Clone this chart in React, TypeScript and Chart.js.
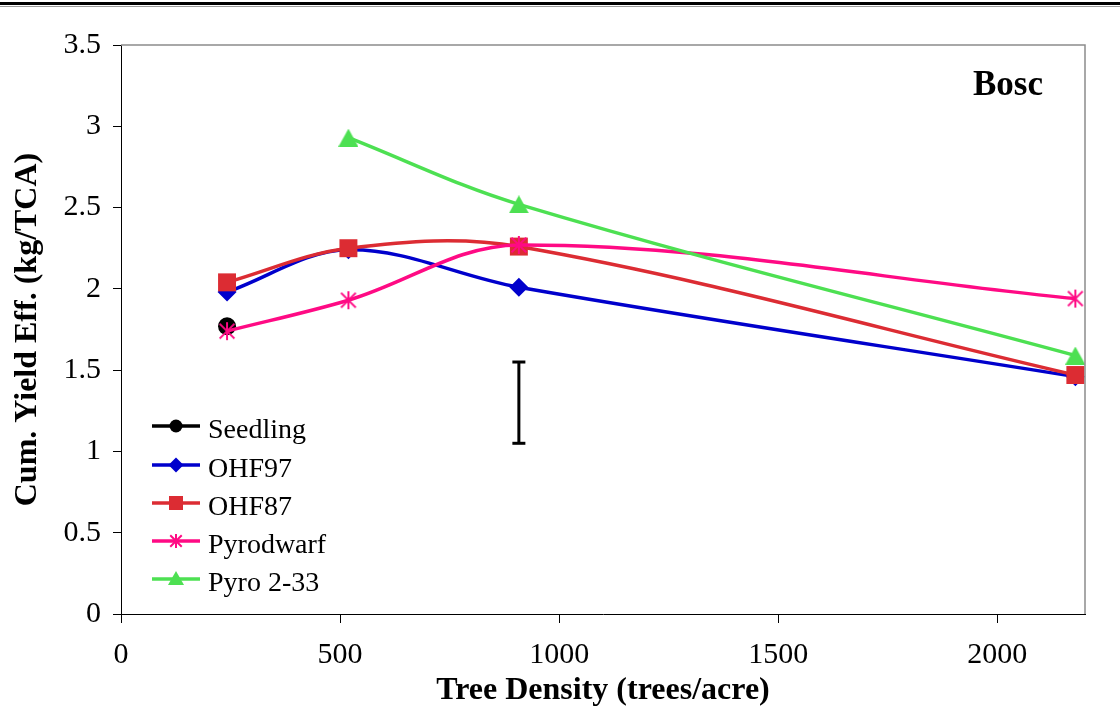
import React, { useEffect, useRef } from "react";
import { Chart, registerables } from "chart.js";

Chart.register(...registerables);

// ---------- data ----------
const X_DENSITY = [242, 519, 908, 2178];
const SERIES_NAMES = ["Seedling", "OHF97", "OHF87", "Pyrodwarf", "Pyro 2-33"];
const SEEDLING = [1.77, null, null, null];
const OHF97 = [1.98, 2.24, 2.01, 1.46];
const OHF87 = [2.04, 2.25, 2.26, 1.47];
const PYRODWARF = [1.74, 1.93, 2.27, 1.94];
const PYRO_233 = [null, 2.93, 2.52, 1.59];
const ERROR_X = [908, 908];
const ERROR_Y = [1.05, 1.55];
const X_TICKS = [0, 500, 1000, 1500, 2000];
const Y_TICKS = [0, 0.5, 1, 1.5, 2, 2.5, 3, 3.5];
const X_TITLE = "Tree Density (trees/acre)";
const Y_TITLE = "Cum. Yield Eff. (kg/TCA)";
const PANEL_LABEL = "Bosc";

const SERIES_VALUES = [SEEDLING, OHF97, OHF87, PYRODWARF, PYRO_233];
const SERIES_COLORS = ["#000000", "#0000CC", "#DC2C33", "#FF0A84", "#4DE052"];

const FONT = '"Liberation Serif", "Times New Roman", Times, serif';

function makeAsterisk(size: number, color: string, lw: number) {
  const c = document.createElement("canvas");
  c.width = size;
  c.height = size;
  const ctx = c.getContext("2d")!;
  ctx.strokeStyle = color;
  ctx.lineWidth = lw;
  ctx.lineCap = "butt";
  const m = size / 2;
  const h = size / 2 - 1;
  const d = h * 0.82;
  ctx.beginPath();
  ctx.moveTo(m, m - h);
  ctx.lineTo(m, m + h);
  ctx.moveTo(m - d, m - d);
  ctx.lineTo(m + d, m + d);
  ctx.moveTo(m + d, m - d);
  ctx.lineTo(m - d, m + d);
  ctx.stroke();
  return c;
}

function makeTriangle(w: number, h: number, color: string) {
  const c = document.createElement("canvas");
  c.width = w;
  c.height = h;
  const ctx = c.getContext("2d")!;
  ctx.fillStyle = color;
  ctx.beginPath();
  ctx.moveTo(w / 2, 0);
  ctx.lineTo(w, h);
  ctx.lineTo(0, h);
  ctx.closePath();
  ctx.fill();
  return c;
}

export default function App() {
  const ref = useRef<HTMLCanvasElement>(null);

  useEffect(() => {
    document.body.style.margin = "0";
    const canvas = ref.current!;

    const star = makeAsterisk(20, SERIES_COLORS[3], 2);
    const tri = makeTriangle(20, 18, SERIES_COLORS[4]);
    const starSmall = makeAsterisk(16, SERIES_COLORS[3], 2);
    const triSmall = makeTriangle(16, 14, SERIES_COLORS[4]);

    const styles: any[] = ["circle", "rectRot", "rect", star, tri];
    const radii = [9, 9.5, 12.7, 10, 10];

    const datasets: any[] = SERIES_VALUES.map((vals, i) => ({
      label: SERIES_NAMES[i],
      data: vals
        .map((y, j) => ({ x: X_DENSITY[j], y }))
        .filter((p) => p.y !== null),
      borderColor: SERIES_COLORS[i],
      backgroundColor: SERIES_COLORS[i],
      borderWidth: 3.5,
      pointStyle: styles[i],
      pointRadius: radii[i],
      pointBorderWidth: 0,
      pointBackgroundColor: SERIES_COLORS[i],
      pointBorderColor: SERIES_COLORS[i],
      tension: 0.35,
      order: 10 - i,
      clip: false,
    }));

    datasets.push({
      label: "LSD",
      data: ERROR_X.map((x, j) => ({ x, y: ERROR_Y[j] })),
      borderColor: "#000",
      backgroundColor: "#000",
      borderWidth: 3,
      pointStyle: "line",
      pointRadius: 6.5,
      pointBorderWidth: 3,
      pointBorderColor: "#000",
      tension: 0,
      order: 20,
    });

    const framePlugin = {
      id: "frame",
      beforeDraw(chart: any) {
        const ctx = chart.ctx;
        ctx.save();
        ctx.fillStyle = "#fff";
        ctx.fillRect(0, 0, chart.width, chart.height);
        ctx.restore();
      },
      afterDraw(chart: any) {
        const ctx = chart.ctx;
        const a = chart.chartArea;
        ctx.save();
        // top rule of the page
        ctx.fillStyle = "#000";
        ctx.fillRect(0, 2, chart.width, 3);
        ctx.fillStyle = "#9a9a9a";
        ctx.fillRect(0, 6, chart.width, 1);
        // plot-area top/right border
        ctx.strokeStyle = "#8c8c8c";
        ctx.lineWidth = 1.5;
        ctx.beginPath();
        ctx.moveTo(a.left, a.top);
        ctx.lineTo(a.right, a.top);
        ctx.lineTo(a.right, a.bottom);
        ctx.stroke();
        // panel label
        ctx.fillStyle = "#000";
        ctx.font = `bold 35px ${FONT}`;
        ctx.textAlign = "center";
        ctx.textBaseline = "alphabetic";
        ctx.fillText(PANEL_LABEL, a.right - 77, a.top + 50);

        // legend
        const rows = [-188, -149, -111, -73, -35];
        const x0 = a.left + 31;
        const x1 = a.left + 79;
        const xm = (x0 + x1) / 2;
        ctx.font = `28px ${FONT}`;
        ctx.textAlign = "left";
        SERIES_NAMES.forEach((name, i) => {
          const y = a.bottom + rows[i];
          const col = SERIES_COLORS[i];
          ctx.strokeStyle = col;
          ctx.fillStyle = col;
          ctx.lineWidth = 3.5;
          ctx.beginPath();
          ctx.moveTo(x0, y);
          ctx.lineTo(x1, y);
          ctx.stroke();
          ctx.beginPath();
          if (i === 0) {
            ctx.arc(xm, y, 6.5, 0, Math.PI * 2);
            ctx.fill();
          } else if (i === 1) {
            const r = 7.5;
            ctx.moveTo(xm - r, y);
            ctx.lineTo(xm, y - r);
            ctx.lineTo(xm + r, y);
            ctx.lineTo(xm, y + r);
            ctx.closePath();
            ctx.fill();
          } else if (i === 2) {
            const s = 7;
            ctx.fillRect(xm - s, y - s, 2 * s, 2 * s);
          } else if (i === 3) {
            ctx.drawImage(starSmall, xm - 8, y - 8);
          } else {
            ctx.drawImage(triSmall, xm - 8, y - 8);
          }
          ctx.fillStyle = "#000";
          ctx.fillText(name, a.left + 87, y + 11.5);
        });
        ctx.restore();
      },
    };

    const chart = new Chart(canvas, {
      type: "line",
      data: { datasets },
      options: {
        animation: false,
        responsive: true,
        maintainAspectRatio: false,
        layout: { padding: { top: 45, right: 35, left: 0, bottom: 0 } },
        plugins: {
          legend: { display: false },
          tooltip: { enabled: false },
        },
        elements: { line: { capBezierPoints: true } },
        scales: {
          x: {
            type: "linear",
            min: 0,
            max: 2200,
            afterBuildTicks: (s: any) => {
              s.ticks = X_TICKS.map((v) => ({ value: v }));
            },
            afterFit: (s: any) => {
              s.height = 101;
            },
            grid: {
              drawOnChartArea: false,
              drawTicks: true,
              tickLength: 9,
              color: "#000",
              lineWidth: 1,
            },
            border: { display: true, color: "#000", width: 1 },
            ticks: {
              font: { family: FONT, size: 30 },
              color: "#000",
              padding: 14,
              maxRotation: 0,
              autoSkip: false,
              callback: (v: any) => String(v),
            },
            title: {
              display: true,
              text: X_TITLE,
              color: "#000",
              font: { family: FONT, size: 32, weight: "bold" },
              padding: { top: 0, bottom: 5 },
            },
          },
          y: {
            type: "linear",
            min: 0,
            max: 3.5,
            afterBuildTicks: (s: any) => {
              s.ticks = Y_TICKS.map((v) => ({ value: v }));
            },
            afterFit: (s: any) => {
              s.width = 121;
            },
            grid: {
              drawOnChartArea: false,
              drawTicks: true,
              tickLength: 8,
              color: "#000",
              lineWidth: 1,
            },
            border: { display: true, color: "#000", width: 1 },
            ticks: {
              font: { family: FONT, size: 30 },
              color: "#000",
              padding: 12,
              autoSkip: false,
              callback: (v: any) => String(v),
            },
            title: {
              display: true,
              text: Y_TITLE,
              color: "#000",
              font: { family: FONT, size: 32, weight: "bold" },
              padding: { top: 9, bottom: 0 },
            },
          },
        },
      },
      plugins: [framePlugin],
    } as any);

    return () => chart.destroy();
  }, []);

  return (
    <div style={{ width: 1120, height: 715, position: "relative", overflow: "hidden" }}>
      <canvas ref={ref} />
    </div>
  );
}
